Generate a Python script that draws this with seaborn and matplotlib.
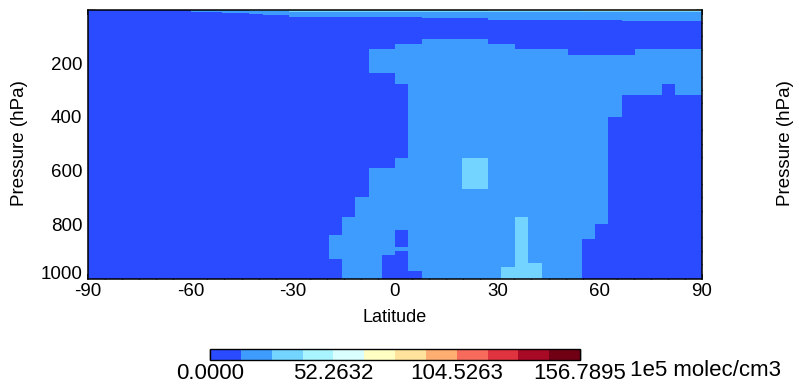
import numpy as np
import matplotlib
matplotlib.use("Agg")
import matplotlib.pyplot as plt
from matplotlib.colors import ListedColormap, BoundaryNorm
from matplotlib.ticker import MultipleLocator
from matplotlib.transforms import ScaledTranslation
import seaborn as sns

# 12 colour classes of the colour bar
cbar_colors = ["#2a4bff", "#3f9cff", "#72d4ff", "#a8f4ff", "#d9ffff", "#ffffc4",
               "#ffe39d", "#ffae72", "#f66b5c", "#df333f", "#a80a26", "#720014"]
level_min = 0.0
level_max = 156.7895
cbar_ticks = [0.0, 52.2632, 104.5263, 156.7895]
cbar_ticklabels = ["0.0000", "52.2632", "104.5263", "156.7895"]
cbar_units = "1e5 molec/cm3"

x_ticks = [-90, -60, -30, 0, 30, 60, 90]
y_ticks = [200, 400, 600, 800, 1000]

# value everywhere outside the patches below
background_value = 6.0

# tropical / mid-latitude body (lat0, lat1, p_top, p_bottom)
mid_lat0 = [-19.4, -15.6, -11.8, -7.6, -3.9, -7.6, 0.0, 0.0, 0.0, 3.9, 7.8, 27.4,
            35.3, 50.8, 54.9, 58.7, 62.5, 66.6, 70.4, 78.3, 82.1]
mid_lat1 = [-15.6, -11.8, -7.6, -3.9, 0.0, 0.0, 3.9, 3.9, 3.9, 7.8, 27.4, 35.3,
            50.8, 54.9, 58.7, 62.5, 66.6, 70.4, 78.3, 82.1, 90.0]
mid_ptop = [841, 775, 700, 592, 592, 149, 127, 554, 884, 127, 110, 127,
            149, 171, 171, 171, 171, 171, 149, 149, 149]
mid_pbot = [930, 1005, 1005, 1005, 915, 237, 276, 822, 900, 975, 1005, 1005,
            1005, 1005, 855, 800, 402, 319, 319, 276, 319]
mid_value = 20.0

# thin layer at the model top
top_lat0 = [-59.7, -50.6, -42.8, -38.6, -31.0, 7.8, 16.3, 27.4, 66.6,
            -42.8, -31.0, 16.3, 27.4, 54.9, 70.4]
top_lat1 = [-50.6, -42.8, -38.6, -31.0, 7.8, 16.3, 27.4, 66.6, 90.0,
            -31.0, 16.3, 90.0, 90.0, 90.0, 90.0]
top_ptop = [0, 0, 0, 0, 0, 0, 0, 0, 0, 0, 0, 0, 0, 0, 0]
top_pbot = [10, 14, 17, 22, 27, 33, 30, 39, 42, 5, 8, 10, 5, 4, 2.5]
top_value = [20, 20, 20, 20, 20, 20, 20, 20, 20, 32, 32, 32, 45, 70, 110]

# higher patches inside the body
high_lat0 = [19.5, 35.3, 31.2, 39.1]
high_lat1 = [27.4, 39.1, 35.3, 43.1]
high_ptop = [554, 775, 960, 946]
high_pbot = [668, 1005, 1005, 1005]
high_value = 32.0


def build_field():
    """
    Build the latitude-pressure field on the grid made of all patch edges.
    """
    lat_edges = np.unique(np.concatenate([[-90.0, 90.0], mid_lat0, mid_lat1,
                                          top_lat0, top_lat1, high_lat0, high_lat1]))
    p_edges = np.unique(np.concatenate([[0.0, 1005.0], mid_ptop, mid_pbot,
                                        top_ptop, top_pbot, high_ptop, high_pbot]))
    lat_c = 0.5 * (lat_edges[:-1] + lat_edges[1:])
    p_c = 0.5 * (p_edges[:-1] + p_edges[1:])
    field = np.full((len(p_c), len(lat_c)), background_value)

    def paint(lat0, lat1, p0, p1, values):
        for a, b, c, d, v in zip(lat0, lat1, p0, p1, values):
            cols = (lat_c > a) & (lat_c < b)
            rows = (p_c > c) & (p_c < d)
            field[np.ix_(rows, cols)] = v

    paint(mid_lat0, mid_lat1, mid_ptop, mid_pbot, [mid_value] * len(mid_lat0))
    paint(top_lat0, top_lat1, top_ptop, top_pbot, top_value)
    paint(high_lat0, high_lat1, high_ptop, high_pbot, [high_value] * len(high_lat0))
    return lat_edges, p_edges, field


def main():
    sns.set_theme(style="ticks")
    plt.rcParams["font.family"] = ["Liberation Sans", "DejaVu Sans"]
    plt.rcParams["axes.linewidth"] = 1.1
    plt.rcParams["text.color"] = "black"
    plt.rcParams["xtick.color"] = "black"
    plt.rcParams["ytick.color"] = "black"

    W, H = 799, 388
    fig = plt.figure(figsize=(W / 100, H / 100), dpi=100)
    ax = fig.add_axes([88 / W, 1 - 279 / H, (702 - 88) / W, (279 - 9.5) / H])

    lat_edges, p_edges, field = build_field()
    levels = np.linspace(level_min, level_max, len(cbar_colors) + 1)
    cmap = ListedColormap(cbar_colors)
    norm = BoundaryNorm(levels, cmap.N)
    mesh = ax.pcolormesh(lat_edges, p_edges, field, cmap=cmap, norm=norm,
                         shading="flat", edgecolors="none", antialiased=False)

    ax.set_xlim(-90, 90)
    ax.set_ylim(1005, 0)
    ax.set_xticks(x_ticks)
    ax.set_xticklabels([str(t) for t in x_ticks])
    ax.set_yticks(y_ticks)
    ax.set_yticklabels([str(t) for t in y_ticks])
    ax.xaxis.set_minor_locator(MultipleLocator(5))
    ax.yaxis.set_minor_locator(MultipleLocator(50))
    ax.tick_params(axis="x", which="major", direction="in", length=3.6, width=1.1,
                   top=True, labelsize=13.5, pad=3, colors="black")
    ax.tick_params(axis="x", which="minor", direction="in", length=1.8, width=1.0,
                   top=True)
    ax.tick_params(axis="y", which="major", direction="in", length=8.6, width=1.1,
                   right=True, labelsize=13.5, pad=4, colors="black")
    ax.tick_params(axis="y", which="minor", direction="in", length=4.7, width=1.0,
                   right=True)
    for sp in ax.spines.values():
        sp.set_color("black")
        sp.set_linewidth(1.1)
    # lift the bottom pressure label a little, as in the original
    last = ax.get_yticklabels()[-1]
    last.set_transform(last.get_transform() + ScaledTranslation(0, 4 / 72, fig.dpi_scale_trans))

    fig.text(395 / W, 1 - 318 / H, "Latitude", ha="center", va="center", fontsize=13)
    fig.text(20 / W, 1 - 143 / H, "Pressure (hPa)", ha="center", va="center",
             rotation=90, fontsize=13.5)
    fig.text(785 / W, 1 - 143 / H, "Pressure (hPa)", ha="center", va="center",
             rotation=90, fontsize=13.5)

    # colour bar
    cax = fig.add_axes([210 / W, 1 - 360 / H, 370 / W, 11 / H])
    cb = fig.colorbar(mesh, cax=cax, orientation="horizontal", ticks=cbar_ticks)
    cb.set_ticklabels(cbar_ticklabels)
    cb.outline.set_edgecolor("black")
    cb.outline.set_linewidth(1.0)
    cax.tick_params(axis="x", direction="in", length=8, width=1.0, colors="black",
                    labelsize=16, pad=2)
    cax.tick_params(axis="x", which="minor", length=0)
    fig.text(630 / W, 1 - 370 / H, cbar_units, ha="left", va="center", fontsize=16)

    fig.savefig("out.png", dpi=100)


if __name__ == "__main__":
    main()
